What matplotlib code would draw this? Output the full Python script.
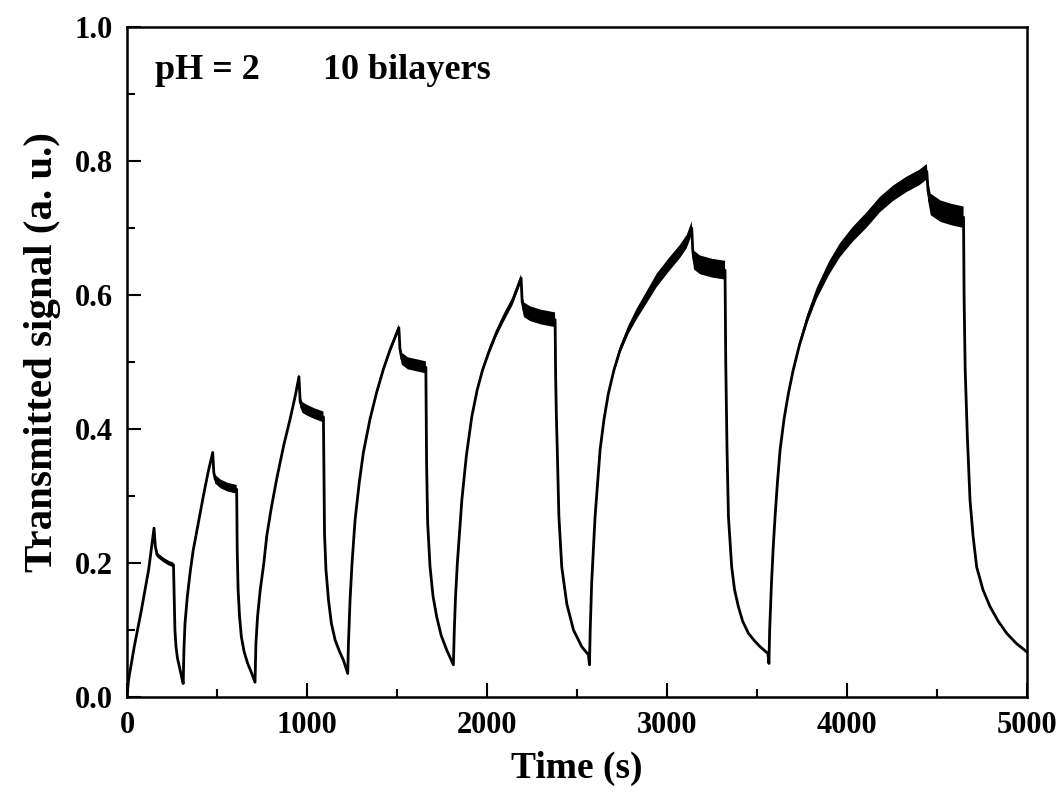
import numpy as np
import matplotlib
matplotlib.use("Agg")
import matplotlib.pyplot as plt
from matplotlib.ticker import MultipleLocator, FormatStrFormatter

plt.rcParams['font.family'] = ['Liberation Serif', 'DejaVu Serif']
plt.rcParams['font.weight'] = 'bold'

# ---- data: time (s), transmitted signal (a.u.), noise band (full vertical width)
c1_t = [0, 8, 40, 80, 120, 150, 157, 167, 200, 230, 258, 262, 266, 272, 280, 291, 303, 312]
c1_y = [0.0, 0.025, 0.075, 0.13, 0.19, 0.252, 0.225, 0.212, 0.205, 0.2, 0.197, 0.15, 0.1, 0.075, 0.058, 0.045, 0.03, 0.02]
c1_n = [0, 0, 0, 0, 0.002, 0.003, 0.007, 0.007, 0.007, 0.007, 0.007, 0, 0, 0, 0, 0, 0, 0]

c2_t = [316, 322, 335, 350, 367, 389, 424, 450, 476, 482, 490, 520, 560, 609, 612, 617, 625, 635, 650, 670, 690, 711]
c2_y = [0.07, 0.11, 0.15, 0.185, 0.218, 0.25, 0.30, 0.335, 0.365, 0.335, 0.325, 0.318, 0.313, 0.31, 0.22, 0.16, 0.12, 0.09, 0.068, 0.05, 0.037, 0.022]
c2_n = [0, 0, 0, 0, 0, 0.002, 0.004, 0.005, 0.006, 0.012, 0.013, 0.013, 0.013, 0.013, 0, 0, 0, 0, 0, 0, 0, 0]

c3_t = [716, 725, 740, 760, 776, 800, 831, 870, 906, 935, 955, 962, 975, 1000, 1040, 1091, 1094, 1097, 1105, 1119, 1135, 1156, 1180, 1202, 1226]
c3_y = [0.08, 0.12, 0.16, 0.2, 0.24, 0.28, 0.325, 0.375, 0.415, 0.45, 0.478, 0.44, 0.432, 0.428, 0.423, 0.418, 0.33, 0.244, 0.19, 0.145, 0.11, 0.085, 0.068, 0.055, 0.035]
c3_n = [0, 0, 0, 0, 0, 0.002, 0.003, 0.005, 0.006, 0.007, 0.008, 0.016, 0.016, 0.016, 0.016, 0.016, 0, 0, 0, 0, 0, 0, 0, 0, 0]

c4_t = [1230, 1239, 1250, 1267, 1290, 1313, 1350, 1387, 1425, 1461, 1510, 1516, 1526, 1560, 1610, 1660, 1664, 1670, 1683, 1700, 1720, 1745, 1776, 1813]
c4_y = [0.08, 0.145, 0.2, 0.265, 0.32, 0.365, 0.415, 0.455, 0.49, 0.518, 0.551, 0.52, 0.505, 0.498, 0.495, 0.492, 0.35, 0.26, 0.195, 0.15, 0.12, 0.092, 0.07, 0.048]
c4_n = [0, 0, 0, 0, 0.002, 0.004, 0.006, 0.007, 0.008, 0.009, 0.01, 0.018, 0.018, 0.018, 0.018, 0.018, 0, 0, 0, 0, 0, 0, 0, 0]

c5_t = [1818, 1825, 1835, 1860, 1885, 1915, 1945, 1975, 2010, 2050, 2091, 2140, 2189, 2195, 2205, 2240, 2300, 2378,
        2381, 2385, 2390, 2399, 2415, 2443, 2480, 2526, 2563, 2569]
c5_y = [0.1, 0.15, 0.2, 0.294, 0.36, 0.418, 0.458, 0.488, 0.515, 0.542, 0.565, 0.59, 0.625, 0.59, 0.578, 0.572, 0.567, 0.563,
        0.48, 0.42, 0.37, 0.27, 0.194, 0.139, 0.1, 0.075, 0.063, 0.048]
c5_n = [0, 0, 0, 0, 0.003, 0.005, 0.007, 0.008, 0.01, 0.011, 0.012, 0.012, 0.012, 0.02, 0.022, 0.022, 0.022, 0.022,
        0, 0, 0, 0, 0, 0, 0, 0, 0, 0]

c6_t = [2573, 2581, 2600, 2628, 2650, 2674, 2705, 2739, 2785, 2832, 2890, 2943, 3010, 3072, 3110, 3137, 3143, 3150, 3183, 3250, 3322,
        3326, 3333, 3341, 3359, 3375, 3396, 3420, 3452, 3485, 3517, 3560, 3566]
c6_y = [0.1, 0.169, 0.269, 0.369, 0.415, 0.453, 0.488, 0.518, 0.548, 0.572, 0.598, 0.622, 0.645, 0.665, 0.68, 0.70, 0.665, 0.652, 0.645, 0.64, 0.637,
        0.5, 0.37, 0.269, 0.194, 0.16, 0.135, 0.113, 0.095, 0.084, 0.075, 0.065, 0.05]
c6_n = [0, 0, 0, 0.003, 0.005, 0.007, 0.009, 0.011, 0.013, 0.016, 0.018, 0.02, 0.02, 0.02, 0.02, 0.02, 0.026, 0.028, 0.028, 0.028, 0.028,
        0, 0, 0, 0, 0, 0, 0, 0, 0, 0, 0, 0]

c7_t = [3570, 3580, 3590, 3600, 3613, 3628, 3650, 3674, 3700, 3735, 3780, 3831, 3900, 3961, 4030, 4109, 4183, 4257, 4330, 4400, 4443,
        4450, 4465, 4520, 4580, 4647,
        4650, 4656, 4668, 4683, 4700, 4720, 4755, 4794, 4840, 4887, 4940, 5000]
c7_y = [0.1, 0.17, 0.225, 0.269, 0.32, 0.369, 0.415, 0.453, 0.487, 0.525, 0.565, 0.602, 0.64, 0.667, 0.69, 0.712, 0.735, 0.752, 0.765, 0.775, 0.784,
        0.755, 0.735, 0.725, 0.72, 0.716,
        0.6, 0.49, 0.39, 0.294, 0.24, 0.194, 0.16, 0.135, 0.113, 0.095, 0.08, 0.067]
c7_n = [0, 0, 0, 0, 0, 0.003, 0.005, 0.007, 0.009, 0.011, 0.014, 0.017, 0.02, 0.021, 0.022, 0.023, 0.023, 0.023, 0.023, 0.023, 0.023,
        0.028, 0.032, 0.032, 0.032, 0.032,
        0, 0, 0, 0, 0, 0, 0, 0, 0, 0, 0, 0]

x_ticks = [0, 1000, 2000, 3000, 4000, 5000]
y_ticks = [0.0, 0.2, 0.4, 0.6, 0.8, 1.0]

cycles_t = [c1_t, c2_t, c3_t, c4_t, c5_t, c6_t, c7_t]
cycles_y = [c1_y, c2_y, c3_y, c4_y, c5_y, c6_y, c7_y]
cycles_n = [c1_n, c2_n, c3_n, c4_n, c5_n, c6_n, c7_n]

t = np.concatenate([np.asarray(a, float) for a in cycles_t])
y = np.concatenate([np.asarray(a, float) for a in cycles_y])
n = np.concatenate([np.asarray(a, float) for a in cycles_n])

fig = plt.figure(figsize=(10.64, 7.98), dpi=100)
ax = fig.add_axes([0.1194, 0.1266, 0.8459, 0.8396])

ax.plot(t, y, color='black', lw=2.0, solid_joinstyle='round')
ax.fill_between(t, y - n / 2, y + n / 2, where=n > 0, color='black', lw=0, interpolate=False)

ax.set_xlim(0, 5000)
ax.set_ylim(0, 1.0)
ax.set_xticks(x_ticks)
ax.set_yticks(y_ticks)
ax.xaxis.set_minor_locator(MultipleLocator(500))
ax.yaxis.set_minor_locator(MultipleLocator(0.1))
ax.yaxis.set_major_formatter(FormatStrFormatter('%.1f'))
ax.tick_params(which='both', direction='in', top=False, right=False, width=1.5)
ax.tick_params(which='major', length=10, labelsize=22, pad=10)
ax.tick_params(which='minor', length=6)
for lab in ax.get_xticklabels() + ax.get_yticklabels():
    lab.set_fontweight('bold')
for sp in ax.spines.values():
    sp.set_linewidth(1.8)

ax.set_xlabel('Time (s)', fontsize=27, fontweight='bold', labelpad=8)
ax.set_ylabel('Transmitted signal (a. u.)', fontsize=29.5, fontweight='bold', labelpad=10)
ax.yaxis.label.set_y(0.515)

ax.text(0.031, 0.922, 'pH = 2', transform=ax.transAxes, fontsize=26, fontweight='bold', va='baseline')
ax.text(0.218, 0.922, '10 bilayers', transform=ax.transAxes, fontsize=26, fontweight='bold', va='baseline')

fig.savefig('out.png', dpi=100)
